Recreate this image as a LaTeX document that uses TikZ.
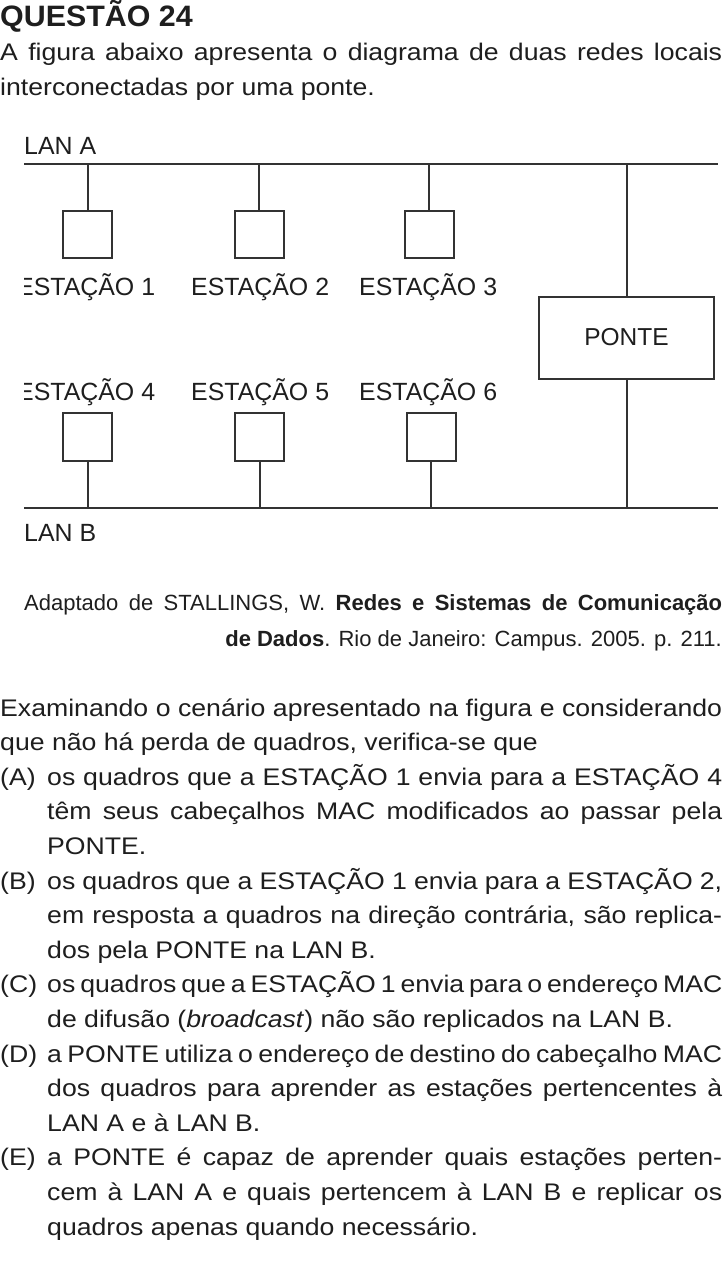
\documentclass[tikz,border=0pt]{standalone}
\usepackage{fontspec}
\setmainfont{Liberation Sans}
\usepackage{graphicx}
\definecolor{ink}{HTML}{1E1E1E}
\definecolor{wirec}{HTML}{333333}
\newlength\jlw
\newlength\jlt
% justified line: #1 horizontal scale, #2 target width, #3 text
\newcommand\jl[3]{\settowidth\jlw{#3}\jlw=#1\jlw\ifdim\jlw>#2\relax\resizebox{#2}{\height}{#3}\else\pgfmathsetlength\jlt{#2/#1}\scalebox{#1}[1]{\makebox[\jlt][s]{#3}}\fi}
% natural (ragged) line
\newcommand\nl[2]{\scalebox{#1}[1]{#2}}
\begin{document}
\begin{tikzpicture}[x=1pt,y=-1pt,
  body/.style={inner sep=0pt, anchor=base west, text=ink, font=\fontsize{24}{28}\selectfont},
  lbl/.style={body, font=\fontsize{24.9}{28}\selectfont},
  cite/.style={body, font=\fontsize{22}{26}\selectfont},
  bus/.style={draw=wirec, line width=2pt},
  station/.style={draw=wirec, line width=2pt, minimum width=49pt, minimum height=47.5pt, inner sep=0pt},
  bridge/.style={draw=wirec, line width=2pt, minimum width=175pt, minimum height=82pt, inner sep=0pt, text=ink, font=\fontsize{24.5}{28}\selectfont}]
\fill[white] (0,0) rectangle (725,1268);
\useasboundingbox (0,0) rectangle (725,1268);

% heading
\node[anchor=base west, inner sep=0pt, text=ink, font=\fontsize{29.5}{32}\selectfont\bfseries] (title) at (0,27) {\scalebox{1.03}[1]{QUESTÃO 24}};
\node[body] (p1) at (0,61) {\jl{1.11}{722pt}{A figura abaixo apresenta o diagrama de duas redes locais}};
\node[body] (p2) at (0,96) {\nl{1.11}{interconectadas por uma ponte.}};

% diagram
\coordinate (lanAw) at (24,164);
\coordinate (lanAe) at (718,164);
\coordinate (lanBw) at (24,508);
\coordinate (lanBe) at (718,508);
\coordinate (pA) at (626.5,164);
\node[lbl] (lanA) at (24,155) {LAN A};
\node[lbl] (lanB) at (24,541) {LAN B};

\node[station] (s1) at (87.5,234.5) {};
\node[station] (s2) at (259,234.5) {};
\node[station] (s3) at (429,234.5) {};
\node[station] (s4) at (87.5,437) {};
\node[station] (s5) at (259.5,437) {};
\node[station] (s6) at (431,437) {};
\node[bridge] (ponte) at (626.5,337.5) {PONTE};

\begin{scope}
\clip (24,0) rectangle (725,1268);
\node[lbl] (e1) at (17,295) {ESTAÇÃO 1};
\node[lbl] (e4) at (17,400) {ESTAÇÃO 4};
\end{scope}
\node[lbl] (e2) at (191,295) {ESTAÇÃO 2};
\node[lbl] (e3) at (359,295) {ESTAÇÃO 3};
\node[lbl] (e5) at (191,400) {ESTAÇÃO 5};
\node[lbl] (e6) at (359,400) {ESTAÇÃO 6};

\draw[bus] (lanAw) -- (lanAe);
\draw[bus] (lanBw) -- (lanBe);
\draw[bus] (s1.north) -- (s1.north |- lanAw);
\draw[bus] (s2.north) -- (s2.north |- lanAw);
\draw[bus] (s3.north) -- (s3.north |- lanAw);
\draw[bus] (s4.south) -- (s4.south |- lanBw);
\draw[bus] (s5.south) -- (s5.south |- lanBw);
\draw[bus] (s6.south) -- (s6.south |- lanBw);
\draw[bus] (pA) -- (ponte.north);
\draw[bus] (ponte.south) -- (ponte.south |- lanBw);

% source
\node[cite] (c1) at (24,610) {\jl{1}{698pt}{Adaptado de STALLINGS, W. \textbf{Redes e Sistemas de Comunicação}}};
\node[cite, anchor=base east] (c2) at (722,646) {\textbf{de Dados}. Rio de Janeiro: Campus. 2005. p. 211.};

% question
\node[body] (q0) at (0,716) {\jl{1.11}{722pt}{Examinando o cenário apresentado na figura e considerando}};
\node[body] (q1) at (0,750.6) {\nl{1.11}{que não há perda de quadros, verifica-se que}};

\node[body] (la) at (0,785.2) {\nl{1.11}{(A)}};
\node[body] (a1) at (47,785.2) {\jl{1.11}{675pt}{os quadros que a ESTAÇÃO 1 envia para a ESTAÇÃO 4}};
\node[body] (a2) at (47,819.8) {\jl{1.11}{675pt}{têm seus cabeçalhos MAC modificados ao passar pela}};
\node[body] (a3) at (47,854.4) {\nl{1.11}{PONTE.}};

\node[body] (lb) at (0,889) {\nl{1.11}{(B)}};
\node[body] (b1) at (47,889) {\jl{1.11}{675pt}{os quadros que a ESTAÇÃO 1 envia para a ESTAÇÃO 2,}};
\node[body] (b2) at (47,923.6) {\jl{1.11}{675pt}{em resposta a quadros na direção contrária, são replica-}};
\node[body] (b3) at (47,958.2) {\nl{1.11}{dos pela PONTE na LAN B.}};

\node[body] (lc) at (0,992.8) {\nl{1.11}{(C)}};
\node[body] (c1q) at (47,992.8) {\jl{1.11}{675pt}{os quadros que a ESTAÇÃO 1 envia para o endereço MAC}};
\node[body] (c2q) at (47,1027.4) {\nl{1.11}{de difusão (\textit{broadcast}) não são replicados na LAN B.}};

\node[body] (ld) at (0,1062) {\nl{1.11}{(D)}};
\node[body] (d1) at (47,1062) {\jl{1.11}{675pt}{a PONTE utiliza o endereço de destino do cabeçalho MAC}};
\node[body] (d2) at (47,1096.6) {\jl{1.11}{675pt}{dos quadros para aprender as estações pertencentes à}};
\node[body] (d3) at (47,1131.2) {\nl{1.11}{LAN A e à LAN B.}};

\node[body] (le) at (0,1165.8) {\nl{1.11}{(E)}};
\node[body] (e1q) at (47,1165.8) {\jl{1.11}{675pt}{a PONTE é capaz de aprender quais estações perten-}};
\node[body] (e2q) at (47,1200.4) {\jl{1.11}{675pt}{cem à LAN A e quais pertencem à LAN B e replicar os}};
\node[body] (e3q) at (47,1235) {\nl{1.11}{quadros apenas quando necessário.}};
\end{tikzpicture}
\end{document}
